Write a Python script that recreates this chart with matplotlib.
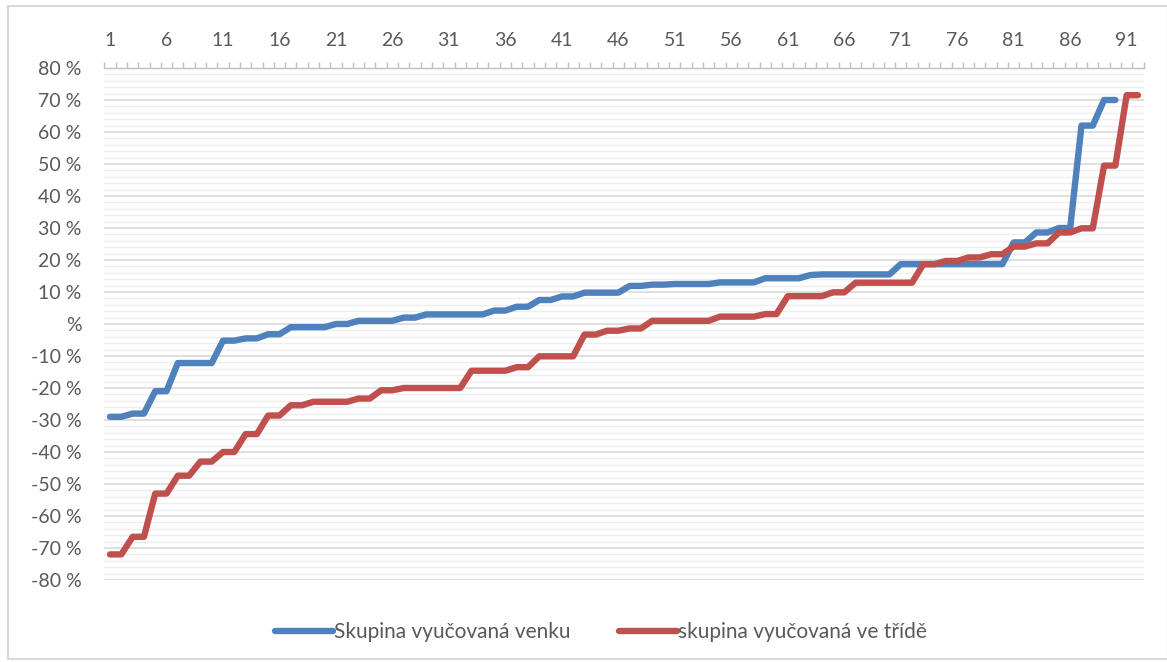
import matplotlib.pyplot as plt
import matplotlib.patches as patches
import numpy as np

# values in %
venku = [-29, -29, -28, -28, -21, -21, -12.2, -12.2, -12.2, -12.2,
         -5.2, -5.2, -4.5, -4.5, -3.2, -3.2, -1, -1, -1, -1,
         0, 0, 1, 1, 1, 1, 2, 2, 3, 3,
         3, 3, 3, 3, 4.2, 4.2, 5.4, 5.4, 7.5, 7.5,
         8.6, 8.6, 9.8, 9.8, 9.8, 9.8, 11.9, 11.9, 12.3, 12.3,
         12.5, 12.5, 12.5, 12.5, 13, 13, 13, 13, 14.3, 14.3,
         14.3, 14.3, 15.3, 15.5, 15.5, 15.5, 15.5, 15.5, 15.5, 15.5,
         18.7, 18.7, 18.7, 18.7, 18.7, 18.7, 18.7, 18.7, 18.7, 18.7,
         25.5, 25.5, 28.6, 28.6, 30, 30, 62, 62, 70, 70]

ve_tride = [-72, -72, -66.5, -66.5, -53, -53, -47.4, -47.4, -43, -43,
            -40, -40, -34.4, -34.4, -28.6, -28.6, -25.4, -25.4, -24.3, -24.3,
            -24.3, -24.3, -23.3, -23.3, -20.7, -20.7, -20, -20, -20, -20,
            -20, -20, -14.6, -14.6, -14.6, -14.6, -13.5, -13.5, -10.1, -10.1,
            -10.1, -10.1, -3.3, -3.3, -2.1, -2.1, -1.4, -1.4, 1, 1,
            1, 1, 1, 1, 2.3, 2.3, 2.3, 2.3, 3.1, 3.1,
            8.7, 8.7, 8.7, 8.7, 9.9, 9.9, 12.9, 12.9, 12.9, 12.9,
            12.9, 12.9, 18.7, 18.7, 19.7, 19.7, 20.8, 20.8, 21.8, 21.8,
            24.2, 24.2, 25.2, 25.2, 28.6, 28.6, 29.9, 29.9, 49.5, 49.5,
            71.5, 71.5]

labels = ['Skupina vyučovaná venku', 'skupina vyučovaná ve třídě']
colors = ['#4F81BD', '#C0504D']
y_ticks = list(range(-80, 81, 10))

plt.rcParams['font.family'] = ['Lato', 'DejaVu Sans']
txt = '#595959'
grid_major = '#d9d9d9'
grid_minor = '#eeeeee'

fig = plt.figure(figsize=(11.67, 6.62), dpi=100)
ax = fig.add_axes([104.4 / 1167, 82 / 662, 1039.2 / 1167, 512 / 662])

for data, col, lab in zip([venku, ve_tride], colors, labels):
    x = np.arange(1, len(data) + 1)
    ax.plot(x, data, color=col, lw=4.6, label=lab,
            solid_capstyle='round', solid_joinstyle='round', zorder=3)

ax.set_xlim(0.5, 92.5)
ax.set_ylim(-80, 80)

# y axis
ax.set_yticks(y_ticks)
ax.set_yticklabels(['%' if v == 0 else f'{v} %' for v in y_ticks])
ax.set_yticks(np.arange(-80, 81, 2), minor=True)
ax.tick_params(axis='y', which='both', length=0, pad=16.5,
               labelsize=14, labelcolor=txt)
ax.grid(axis='y', which='major', color=grid_major, lw=1.2, zorder=1)
ax.grid(axis='y', which='minor', color=grid_minor, lw=1.0, zorder=0)

# category axis on top
ax.xaxis.tick_top()
ax.set_xticks(np.arange(1, 93, 5))
ax.set_xticklabels([str(i) for i in range(1, 93, 5)])
ax.set_xticks(np.arange(0.5, 93, 1), minor=True)
ax.tick_params(axis='x', which='major', length=0, pad=13.5,
               labelsize=14, labelcolor=txt)
ax.tick_params(axis='x', which='minor', length=4, width=1,
               color='#bfbfbf', direction='out')

for s in ['left', 'right', 'bottom']:
    ax.spines[s].set_visible(False)
ax.spines['top'].set_color('#bfbfbf')
ax.spines['top'].set_linewidth(1)

fig.legend(loc='center', bbox_to_anchor=(601 / 1167, 1 - 632 / 662), ncol=2,
           frameon=False, fontsize=15, handlelength=2.8, handletextpad=0.05,
           columnspacing=2.3, labelcolor=txt)

# chart area border
fig.patches.append(patches.Rectangle((8 / 1167, 3 / 662), 1160 / 1167, 653 / 662,
                                     transform=fig.transFigure, fill=False,
                                     edgecolor='#d9d9d9', lw=1.5))

fig.savefig('out.png', dpi=100)
